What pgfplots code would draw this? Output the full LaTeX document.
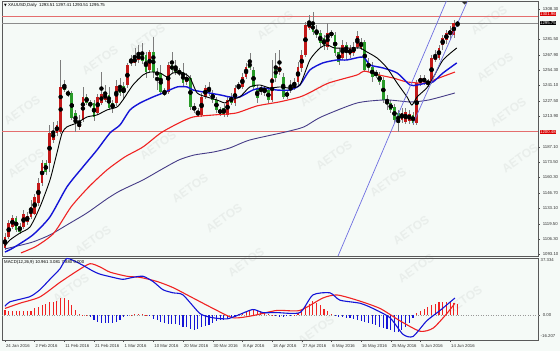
\documentclass[border=0pt]{standalone}
\usepackage{fontspec}
\setmainfont{Liberation Sans}
\newfontfamily\djv{DejaVu Sans}
\usepackage{pgfplots}
\usepackage{pgfplotstable}
\pgfplotsset{compat=1.18}
\definecolor{bg}{RGB}{245,250,247}
\definecolor{wm}{RGB}{233,238,235}
\definecolor{cup}{RGB}{195,25,25}
\definecolor{cdn}{RGB}{40,155,40}
\definecolor{wick}{RGB}{125,125,125}
\definecolor{mablue}{RGB}{20,20,215}
\definecolor{mared}{RGB}{240,35,35}
\definecolor{mapurple}{RGB}{70,60,135}
\definecolor{chan}{RGB}{110,110,225}
\definecolor{hred}{RGB}{228,110,110}
\newcommand\tf{\fontsize{4.3bp}{5bp}\selectfont}

\pgfplotstableread{
i o h l c
0 1098.4 1111.5 1096.6 1108.0
1 1108.0 1122.9 1106.3 1120.3
2 1116.8 1127.3 1115.0 1124.7
5 1116.8 1131.7 1115.0 1128.2
6 1121.2 1130.0 1118.6 1126.5
7 1125.6 1140.5 1123.8 1134.4
8 1128.2 1145.8 1127.3 1143.2
9 1137.9 1159.8 1135.3 1155.5
10 1155.5 1175.7 1152.8 1173.0
12 1173.0 1206.4 1165.1 1199.4
13 1193.2 1209.0 1190.6 1201.1
14 1199.4 1209.9 1196.7 1206.4
15 1200.3 1263.5 1198.5 1239.8
20 1204.7 1215.2 1202.0 1208.2
21 1210.8 1239.8 1209.0 1231.0
25 1216.9 1233.6 1215.2 1231.0
26 1225.7 1252.9 1223.9 1233.6
27 1228.4 1241.5 1226.6 1234.5
30 1225.7 1245.9 1223.1 1240.7
33 1241.5 1260.9 1238.9 1259.1
35 1260.9 1274.0 1258.2 1265.3
36 1263.5 1276.7 1260.9 1268.8
39 1254.7 1272.3 1252.1 1270.5
43 1233.6 1238.9 1231.9 1235.4
44 1235.4 1261.7 1233.6 1259.1
49 1244.2 1252.1 1241.5 1248.6
51 1219.6 1225.7 1216.9 1222.2
53 1215.2 1234.5 1213.4 1231.0
54 1231.0 1241.5 1229.3 1238.9
60 1215.2 1231.0 1213.4 1228.4
62 1225.7 1241.5 1223.1 1238.9
63 1238.9 1244.2 1237.1 1240.7
64 1239.8 1252.1 1238.1 1248.6
65 1248.6 1260.9 1246.8 1257.3
69 1236.3 1241.5 1232.8 1238.9
72 1228.4 1263.5 1226.6 1247.7
74 1252.9 1272.3 1250.3 1257.3
76 1231.9 1237.1 1229.3 1234.5
77 1237.1 1245.9 1234.5 1239.8
78 1238.9 1247.7 1237.1 1244.2
79 1244.2 1261.7 1241.5 1257.3
80 1256.5 1272.3 1253.0 1267.9
81 1267.9 1296.9 1266.1 1294.2
82 1291.6 1303.0 1289.8 1296.9
87 1274.9 1296.0 1272.3 1287.2
91 1265.3 1281.1 1263.5 1276.7
93 1267.9 1276.7 1265.3 1274.0
94 1269.6 1279.3 1267.0 1274.9
95 1274.9 1289.0 1273.2 1284.6
96 1274.0 1282.8 1272.3 1279.3
107 1210.8 1221.3 1208.2 1216.9
108 1209.0 1221.3 1207.3 1217.8
109 1209.9 1219.6 1207.3 1216.1
111 1208.2 1245.9 1206.4 1243.3
112 1243.3 1250.3 1240.7 1247.7
115 1244.2 1267.9 1242.4 1265.3
116 1263.5 1272.3 1261.7 1267.9
117 1265.3 1276.7 1263.5 1274.0
118 1276.7 1285.5 1272.3 1282.8
119 1281.1 1290.0 1277.6 1287.2
120 1285.5 1293.4 1281.1 1289.8
121 1285.5 1298.6 1282.8 1296.0
122 1293.51 1297.41 1293.51 1295.75
}\upc

\pgfplotstableread{
i o h l c
3 1124.7 1126.5 1112.4 1114.2
4 1117.7 1120.3 1110.6 1112.4
11 1173.0 1175.7 1162.5 1165.1
16 1241.5 1245.9 1235.4 1237.1
17 1235.4 1237.1 1231.0 1232.8
18 1234.5 1236.3 1210.8 1212.5
19 1216.9 1219.6 1200.3 1208.2
22 1231.0 1233.6 1223.9 1225.7
23 1225.7 1228.4 1221.3 1223.1
24 1225.7 1228.4 1209.9 1213.4
28 1232.8 1239.8 1219.6 1221.3
29 1225.7 1228.4 1216.9 1221.3
31 1239.8 1247.7 1231.9 1234.5
32 1240.7 1244.2 1228.4 1234.5
34 1263.5 1267.9 1258.2 1260.9
37 1267.9 1278.4 1260.0 1262.6
38 1267.9 1270.5 1247.7 1252.9
40 1270.5 1283.7 1247.7 1252.9
41 1252.9 1256.5 1237.1 1250.3
42 1252.1 1259.1 1232.8 1235.4
45 1259.1 1270.5 1252.1 1254.7
46 1257.3 1263.5 1250.3 1252.9
47 1252.9 1256.5 1249.4 1252.1
48 1252.9 1260.9 1240.7 1243.3
50 1247.7 1250.3 1219.6 1222.2
52 1217.8 1221.3 1213.4 1215.2
55 1239.8 1244.2 1231.9 1234.5
56 1234.5 1237.1 1225.7 1228.4
57 1228.4 1231.0 1216.9 1219.6
58 1219.6 1222.2 1214.3 1216.9
59 1221.3 1224.8 1213.4 1215.2
61 1231.0 1234.5 1223.9 1225.7
66 1261.7 1269.6 1254.7 1256.5
67 1254.7 1257.3 1237.1 1239.8
68 1238.9 1241.5 1225.7 1230.1
70 1238.1 1240.7 1231.9 1236.3
71 1237.1 1239.8 1225.7 1228.4
73 1257.3 1269.6 1244.2 1247.7
75 1248.6 1252.1 1229.3 1231.0
83 1296.0 1305.7 1285.5 1288.1
84 1289.8 1294.2 1282.8 1285.5
85 1287.2 1289.8 1274.0 1278.4
86 1282.8 1285.5 1272.3 1276.7
88 1287.2 1289.8 1282.8 1285.5
89 1285.5 1288.1 1267.0 1269.6
90 1270.5 1274.0 1259.1 1261.7
92 1276.7 1279.3 1263.5 1270.5
97 1279.3 1281.1 1252.9 1254.7
98 1260.9 1265.3 1252.9 1256.5
99 1257.3 1261.7 1244.2 1248.6
100 1252.1 1254.7 1247.7 1250.3
101 1250.3 1252.9 1241.5 1244.2
102 1245.9 1248.6 1225.7 1228.4
103 1228.4 1232.8 1219.6 1226.6
104 1225.7 1228.4 1216.9 1219.6
105 1222.2 1224.8 1208.2 1210.8
106 1216.9 1219.6 1200.3 1208.2
110 1215.2 1217.8 1206.4 1208.2
113 1247.7 1250.3 1241.5 1244.2
114 1244.2 1246.8 1239.8 1243.3
}\dnc

\pgfplotstableread{
i v
0 3.5
1 3.0
2 3.0
3 3.0
4 3.0
5 3.0
6 3.0
7 3.0
8 4.5
9 5.5
10 6.4
11 7.0
12 8.5
13 8.7
14 9.0
15 11.0
16 11.2
17 10.0
18 6.4
19 3.5
20 0.5
21 0.4
22 0.3
23 -1.0
24 -3.4
25 -4.5
26 -5.0
27 -5.0
28 -5.0
29 -5.0
30 -4.5
31 -3.4
32 -1.0
33 -0.5
34 0.4
35 0.6
36 1.0
37 1.0
38 0.4
39 -0.5
40 -2.4
41 -3.4
42 -4.5
43 -5.0
44 -5.5
45 -6.0
46 -6.0
47 -6.5
48 -7.5
49 -8.0
50 -9.0
51 -9.7
52 -9.0
53 -8.0
54 -7.0
55 -6.5
56 -5.0
57 -4.0
58 -3.4
59 -3.0
60 -2.4
61 -1.5
62 -1.0
63 0.5
64 1.5
65 2.5
66 3.0
67 3.5
68 3.5
69 3.0
70 2.0
71 1.0
72 0.3
73 -0.5
74 -1.0
75 -1.0
76 -0.5
77 -0.3
78 0.3
79 1.5
80 3.4
81 6.0
82 7.6
83 9.0
84 8.0
85 6.5
86 4.0
87 2.5
88 1.0
89 -0.5
90 -1.0
91 -1.2
92 -1.6
93 -2.0
94 -2.5
95 -3.0
96 -3.7
97 -4.5
98 -5.0
99 -5.9
100 -6.5
101 -7.6
102 -8.5
103 -9.3
104 -10.0
105 -11.0
106 -11.0
107 -10.0
108 -7.6
109 -5.0
110 -2.0
111 1.5
112 3.0
113 4.2
114 5.5
115 6.5
116 7.5
117 8.6
118 8.6
119 8.6
120 8.6
121 8.2
122 7.6
}\hist

\begin{document}
\begin{tikzpicture}
\useasboundingbox[fill=bg] (0,0) rectangle (560bp,351bp);
% watermarks
\foreach \wx/\wy in {22/110,26/163,93/240,100/60,147/38,158/145,190/188,224/218,275/25,318/92,334/155,388/182,411/230,489/20,495/67,508/112,520/158,71/288,246/262,416/268,464/300,316/330}{
  \node[text=wm, font=\bfseries\fontsize{12bp}{12bp}\selectfont, rotate=35, inner sep=0pt] at (\wx bp, 351bp-\wy bp) {AETOS};
}
\begin{axis}[
  at={(2bp,95bp)}, anchor=south west,
  width=536bp, height=255bp, scale only axis,
  xmin=-0.81, xmax=143.7, ymin=1091.3, ymax=1315.3,
  axis line style={draw=black!65, line width=0.6bp},
  clip=false,
  xtick=\empty,
  ytick={1308.30,1281.50,1267.90,1254.30,1241.10,1227.50,1213.90,1187.10,1173.50,1160.30,1146.70,1133.10,1119.50,1106.30,1093.10},
  yticklabels={1308.30,1281.50,1267.90,1254.30,1241.10,1227.50,1213.90,1187.10,1173.50,1160.30,1146.70,1133.10,1119.50,1106.30,1093.10},
  ytick pos=right, yticklabel pos=right,
  tick align=outside, major tick length=1.8bp,
  tick style={draw=black!70, line width=0.4bp},
  yticklabel style={font=\tf, anchor=west, xshift=-0.5bp, text=black!80},
]
% horizontal levels
\draw[hred, line width=0.7bp] (axis cs:-0.81,1301.96) -- (axis cs:143.7,1301.96);
\draw[black!45, line width=0.6bp] (axis cs:-0.81,1295.75) -- (axis cs:143.7,1295.75);
\draw[hred, line width=0.7bp] (axis cs:-0.81,1200.48) -- (axis cs:143.7,1200.48);
% wicks
\addplot[only marks, mark=none, forget plot, error bars/.cd, y dir=both, y explicit, error mark=none,
  error bar style={draw=wick, line width=0.6bp}]
  table[x=i, y expr={(\thisrow{h}+\thisrow{l})/2}, y error expr={(\thisrow{h}-\thisrow{l})/2}] {\upc};
\addplot[only marks, mark=none, forget plot, error bars/.cd, y dir=both, y explicit, error mark=none,
  error bar style={draw=wick, line width=0.6bp}]
  table[x=i, y expr={(\thisrow{h}+\thisrow{l})/2}, y error expr={(\thisrow{h}-\thisrow{l})/2}] {\dnc};
% bodies
\addplot[only marks, mark=none, forget plot, error bars/.cd, y dir=both, y explicit, error mark=none,
  error bar style={draw=cup, line width=2.7bp}]
  table[x=i, y expr={(\thisrow{o}+\thisrow{c})/2}, y error expr={max(abs(\thisrow{c}-\thisrow{o})/2,0.5)}] {\upc};
\addplot[only marks, mark=none, forget plot, error bars/.cd, y dir=both, y explicit, error mark=none,
  error bar style={draw=cdn, line width=2.7bp}]
  table[x=i, y expr={(\thisrow{o}+\thisrow{c})/2}, y error expr={max(abs(\thisrow{c}-\thisrow{o})/2,0.5)}] {\dnc};
% slow MA (purple)
\addplot[mapurple, line width=0.9bp, smooth, tension=0.4] coordinates {
(0,1097.5) (2.2,1099.2) (7.5,1103.6) (12.1,1109.8) (16.7,1118.6) (22.1,1129.1) (27.5,1141.5) (31.0,1148.5) (37.2,1158.1) (42.0,1167.0) (46.9,1175.7) (51.0,1180.0) (56.3,1182.7) (60.6,1186.2) (66.0,1193.2) (75.7,1200.3) (80.6,1204.7) (85.2,1213.4) (94.9,1225.7) (102.7,1228.4) (109.4,1226.6) (114.3,1228.4) (121.3,1234.5)};
% red MA
\addplot[mared, line width=1.1bp, smooth, tension=0.4] coordinates {
(4.3,1094.0) (8.5,1100.0) (13.2,1111.5) (17.8,1134.4) (22.6,1152.0) (27.5,1166.9) (32.3,1178.3) (37.2,1187.1) (42.0,1199.4) (46.9,1208.2) (50.7,1213.4) (56.3,1215.2) (62.3,1216.9) (67.9,1223.1) (73.9,1226.6) (79.5,1231.0) (82.5,1235.4) (87.3,1243.3) (94.9,1250.3) (96.8,1253.8) (100.8,1250.3) (104.6,1247.7) (108.4,1244.2) (113.2,1243.3) (117.0,1247.7) (121.3,1252.9)};
% blue MA
\addplot[mablue, line width=1.4bp, smooth, tension=0.4] coordinates {
(0,1094.8) (2.2,1098.4) (7.5,1109.8) (12.1,1125.6) (16.7,1152.0) (21.0,1169.5) (24.8,1184.4) (28.3,1199.4) (31.0,1206.4) (33.7,1219.6) (36.4,1225.7) (39.9,1231.0) (42.6,1234.5) (46.4,1239.8) (49.1,1239.8) (50.7,1237.1) (53.4,1235.4) (58.0,1232.8) (60.6,1231.0) (63.3,1231.0) (66.8,1237.1) (69.5,1238.9) (73.3,1237.1) (76.8,1237.1) (79.5,1241.5) (82.2,1254.7) (85.7,1260.9) (89.5,1263.5) (92.2,1263.5) (96.5,1266.1) (98.4,1259.1) (101.9,1256.5) (105.7,1252.1) (109.2,1241.5) (111.1,1241.5) (113.7,1243.3) (115.4,1244.2) (118.1,1252.1) (121.8,1260.9)};
% black MA
\addplot[black, line width=0.9bp, smooth, tension=0.4] coordinates {
(0,1100.1) (1.35,1105.4) (4.04,1111.5) (6.74,1116.8) (9.43,1134.4) (12.13,1158.1) (14.0,1181.8) (15.4,1199.4) (16.7,1204.7) (19.4,1208.2) (22.1,1213.4) (24.8,1215.2) (27.5,1219.6) (30.2,1222.2) (31.8,1228.4) (34.5,1241.5) (37.2,1250.3) (39.1,1252.9) (41.8,1252.1) (43.7,1248.6) (45.3,1252.1) (48.0,1252.1) (49.9,1247.7) (51.8,1234.5) (54.4,1231.0) (57.1,1228.4) (59.3,1225.7) (60.6,1228.4) (63.3,1231.0) (66.0,1239.8) (68.7,1241.5) (71.4,1238.9) (74.1,1239.8) (76.8,1238.9) (79.5,1241.5) (82.2,1263.5) (84.9,1274.0) (86.8,1276.7) (88.9,1274.0) (93.0,1274.0) (95.7,1274.0) (97.6,1270.5) (100.3,1265.3) (103.0,1256.5) (105.7,1243.3) (108.4,1231.0) (109.7,1223.9) (111.1,1231.0) (113.7,1238.9) (115.4,1247.7) (118.1,1263.5) (121.8,1274.0)};
% channel lines
\addplot[chan, line width=0.7bp] coordinates {(89.79,1091.3) (119.0,1315.3)};
\addplot[chan, line width=0.7bp] coordinates {(110.0,1207.5) (124.7,1315.3)};
% header
\node[anchor=north west, font=\tf, inner sep=0pt] at (rel axis cs:0,1) [xshift=2bp, yshift=-2.5bp] {{\djv\fontsize{3.5bp}{4bp}\selectfont ▼} XAUUSD,Daily\ \ 1293.51 1297.41 1293.51 1295.75};
% chart shift marker
\fill[black!80] (axis cs:123.1,1314.8) -- (axis cs:124.7,1314.8) -- (axis cs:123.9,1312.2) -- cycle;
% price boxes
\node[fill=red!85!black, text=white, font=\tf, inner sep=0.5bp, anchor=west] at (axis cs:143.7,1303.5) [xshift=1.5bp] {1301.96};
\node[fill=black, text=white, font=\tf, inner sep=0.5bp, anchor=west] at (axis cs:143.7,1295.75) [xshift=1.5bp] {1295.75};
\node[fill=red!85!black, text=white, font=\tf, inner sep=0.5bp, anchor=west] at (axis cs:143.7,1200.48) [xshift=1.5bp] {1200.48};
\end{axis}

\begin{axis}[
  at={(2bp,11bp)}, anchor=south west,
  width=536bp, height=82bp, scale only axis,
  xmin=-0.81, xmax=143.7, ymin=-16.207, ymax=37.334,
  axis line style={draw=black!65, line width=0.6bp},
  clip=false,
  ytick={0}, yticklabels={0.00},
  ytick pos=right, yticklabel pos=right,
  xtick={0,8,...,120},
  xticklabels={24 Jan 2016,2 Feb 2016,11 Feb 2016,21 Feb 2016,1 Mar 2016,10 Mar 2016,20 Mar 2016,30 Mar 2016,8 Apr 2016,18 Apr 2016,27 Apr 2016,6 May 2016,16 May 2016,25 May 2016,5 Jun 2016,14 Jun 2016},
  xtick pos=bottom,
  tick align=outside, major tick length=1.8bp,
  tick style={draw=black!70, line width=0.4bp},
  yticklabel style={font=\tf, anchor=west, xshift=-0.5bp, text=black!80},
  xticklabel style={font=\tf, anchor=north west, xshift=-2.5bp, yshift=0.8bp, text=black!80},
]
\draw[black!40, dotted, line width=0.5bp] (axis cs:-0.81,0) -- (axis cs:143.7,0);
\addplot[ycomb, mared, line width=1.1bp, forget plot] table[x=i, y expr={max(\thisrow{v},0)}] {\hist};
\addplot[ycomb, mablue, line width=1.1bp, forget plot] table[x=i, y expr={min(\thisrow{v},0)}] {\hist};
\addplot[mared, line width=1.1bp, smooth, tension=0.4] coordinates {
(0,4.4) (4.0,7.8) (9.4,11.9) (14.8,21.4) (19.4,28.8) (22.9,33.6) (25.6,31.5) (28.3,28.1) (32.9,25.4) (36.4,24.7) (41.0,22.0) (45.3,18.0) (50.7,11.2) (56.1,4.4) (61.5,-1.7) (66.8,-0.3) (73.3,3.1) (79.5,3.1) (85.7,11.2) (89.5,13.2) (94.9,9.8) (101.1,4.4) (106.5,-3.7) (111.9,-10.5) (115.4,-8.5) (119.1,1.0) (121.3,7.8)};
\addplot[mablue, line width=1.1bp, smooth, tension=0.4] coordinates {
(0,5.8) (1.3,8.7) (6.7,12.1) (9.4,16.6) (12.1,23.4) (14.8,30.2) (16.7,37.0) (20.2,33.6) (23.7,28.8) (25.6,26.8) (29.1,24.7) (31.8,23.4) (34.5,24.7) (37.2,25.4) (39.9,22.0) (42.6,16.6) (45.3,14.6) (48.0,13.2) (52.6,1.0) (56.1,-1.7) (59.8,-2.4) (62.5,-0.3) (66.8,3.7) (69.5,1.7) (73.3,1.7) (79.5,1.7) (83.0,13.2) (87.6,14.6) (90.3,9.8) (95.7,7.8) (99.2,4.4) (103.8,-1.7) (107.3,-12.5) (110.0,-13.9) (113.7,-3.7) (117.3,3.1) (121.3,11.2)};
\node[anchor=north west, font=\tf, inner sep=0pt] at (rel axis cs:0,1) [xshift=2bp, yshift=-2bp] {MACD(12,26,9) 10.961 3.081 7.880 0.000};
\node[anchor=north west, font=\tf, inner sep=0pt, text=black!80] at (rel axis cs:1,1) [xshift=2.5bp, yshift=-0.5bp] {37.334};
\node[anchor=south west, font=\tf, inner sep=0pt, text=black!80] at (rel axis cs:1,0) [xshift=2.5bp, yshift=2bp] {-16.207};
\end{axis}
\end{tikzpicture}
\end{document}
